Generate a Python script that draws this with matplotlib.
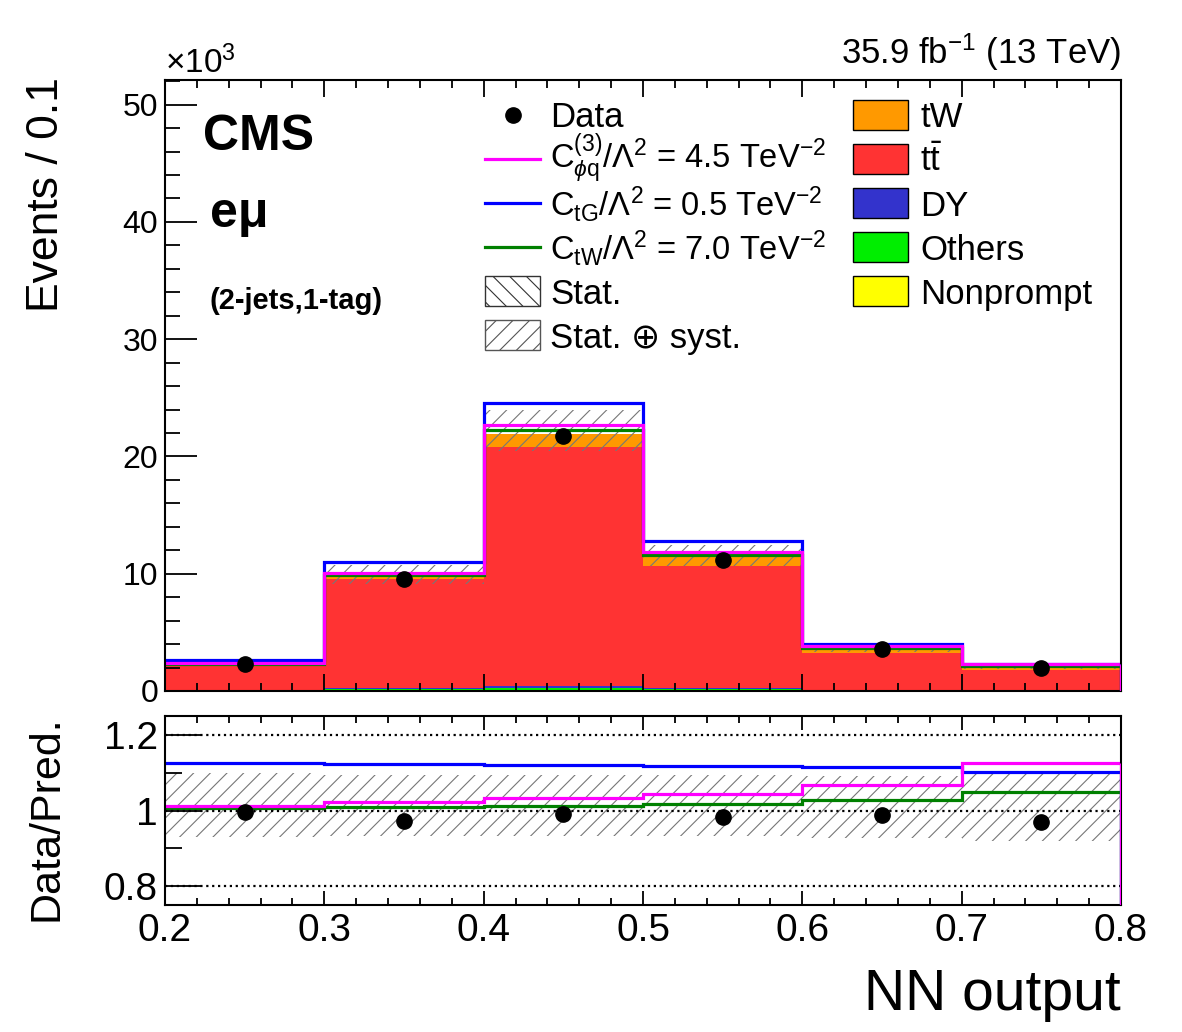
import matplotlib
matplotlib.use("Agg")
import matplotlib.pyplot as plt
import numpy as np
from matplotlib.ticker import MultipleLocator, FixedLocator, FuncFormatter
from matplotlib.lines import Line2D
from matplotlib.patches import Rectangle

plt.rcParams['font.family'] = ['Liberation Sans', 'DejaVu Sans']
plt.rcParams['mathtext.fontset'] = 'custom'
plt.rcParams['mathtext.rm'] = 'Liberation Sans'
plt.rcParams['mathtext.it'] = 'Liberation Sans:italic'
plt.rcParams['mathtext.bf'] = 'Liberation Sans:bold'
plt.rcParams['hatch.linewidth'] = 0.8

# binning of NN output
edges = np.array([0.2, 0.3, 0.4, 0.5, 0.6, 0.7, 0.8])

# event yields in units of 10^3
data_k = np.array([2.31, 9.55, 21.74, 11.20, 3.56, 1.99])
nonprompt_k = np.array([0.03, 0.08, 0.12, 0.06, 0.02, 0.01])
others_k = np.array([0.04, 0.10, 0.15, 0.08, 0.03, 0.02])
dy_k = np.array([0.02, 0.06, 0.15, 0.08, 0.02, 0.01])
ttbar_k = np.array([2.13, 9.27, 20.37, 10.43, 3.18, 1.71])
tw_k = np.array([0.10, 0.30, 1.15, 0.75, 0.35, 0.30])

# relative uncertainty (stat + syst), up / down
unc_up = np.array([0.100, 0.093, 0.093, 0.093, 0.090, 0.099])
unc_dn = np.array([0.069, 0.067, 0.067, 0.067, 0.073, 0.080])

# EFT predictions relative to SM
ratio_cphiq = np.array([1.013, 1.022, 1.033, 1.043, 1.067, 1.125])
ratio_ctg = np.array([1.125, 1.123, 1.121, 1.119, 1.114, 1.103])
ratio_ctw = np.array([1.006, 1.010, 1.013, 1.018, 1.027, 1.050])

# stack order: bottom -> top
stack_vals = [nonprompt_k, others_k, dy_k, ttbar_k, tw_k]
stack_cols = ['#ffff00', '#00ee00', '#3333cc', '#ff3333', '#ff9900']
stack_names = ['Nonprompt', 'Others', 'DY', r't$\bar{\mathrm{t}}$', 'tW']

eft_ratios = [ratio_ctw, ratio_ctg, ratio_cphiq]
eft_cols = ['#008000', '#0000ff', '#ff00ff']
eft_names = [r'C$_{\mathrm{tW}}$/$\Lambda^{2}$ = 7.0 TeV$^{-2}$',
             r'C$_{\mathrm{tG}}$/$\Lambda^{2}$ = 0.5 TeV$^{-2}$',
             r'C$_{\phi\mathrm{q}}^{(3)}$/$\Lambda^{2}$ = 4.5 TeV$^{-2}$']

centers = 0.5 * (edges[1:] + edges[:-1])
total = np.sum(stack_vals, axis=0)

W, H = 1182, 1032
fig = plt.figure(figsize=(W / 100, H / 100), dpi=100)
ax = fig.add_axes([0.1396, 0.33043, 0.8088, 0.59205])
rax = fig.add_axes([0.1396, 0.12306, 0.8088, 0.18314])

# ---- main panel
cum = np.cumsum(stack_vals, axis=0)
for i in range(len(stack_vals) - 1, -1, -1):
    ax.stairs(cum[i], edges, fill=True, color=stack_cols[i], linewidth=0)

ax.stairs(total * (1 + unc_up), edges, baseline=total * (1 - unc_dn), fill=True,
          facecolor='none', edgecolor='#777777', hatch='//', linewidth=0)

for r, c in zip(eft_ratios, eft_cols):
    ax.stairs(total * r, edges, baseline=None, color=c, linewidth=2.3)
    ax.vlines(edges[-1], 0, (total * r)[-1], color=c, linewidth=2.3, zorder=3)

ax.plot(centers, data_k, 'o', color='black', ms=11, zorder=5)

ax.set_xlim(0.2, 0.8)
ax.set_ylim(0, 52.1)
ax.xaxis.set_major_locator(MultipleLocator(0.1))
ax.xaxis.set_minor_locator(MultipleLocator(0.02))
ax.yaxis.set_major_locator(MultipleLocator(10))
ax.yaxis.set_minor_locator(MultipleLocator(2))
ax.tick_params(which='both', direction='in', top=True, right=False, width=1.3)
ax.tick_params(axis='x', which='major', length=12, labelbottom=False)
ax.tick_params(axis='x', which='minor', length=6)
ax.tick_params(axis='y', which='major', length=23, labelsize=23, pad=5)
ax.tick_params(axis='y', which='minor', length=11)
for s in ax.spines.values():
    s.set_linewidth(1.5)

# CMS labels
ax.text(0.040, 0.886, 'CMS', transform=ax.transAxes, fontsize=36, fontweight='bold')
ax.text(0.047, 0.760, 'eμ', transform=ax.transAxes, fontsize=36, fontweight='bold')
ax.text(0.047, 0.625, '(2-jets,1-tag)', transform=ax.transAxes, fontsize=21,
        fontweight='bold')

# legend (manual, ROOT-like layout)
fs_leg = 25
row_y = [0.943, 0.871, 0.798, 0.726, 0.654, 0.582]
base_off = 0.0204
xl0, xl1, xlt = 0.335, 0.392, 0.403
left_labels = ['Data'] + eft_names[::-1] + ['Stat.', r'Stat. ⊕ syst.']
for k, lab in enumerate(left_labels):
    y = row_y[k]
    fs = 23.5 if 1 <= k <= 3 else fs_leg
    dy = 0.004 if k == 1 else 0.0
    ax.text(xlt, y - base_off + dy, lab, transform=ax.transAxes, fontsize=fs, va='baseline')
    if k == 0:
        ax.add_line(Line2D([(xl0 + xl1) / 2], [y], marker='o', color='black', ms=11,
                           transform=ax.transAxes))
    elif k <= 3:
        ax.add_line(Line2D([xl0, xl1], [y, y], color=eft_cols[::-1][k - 1], lw=2.3,
                           transform=ax.transAxes))
    else:
        hatch = '\\\\' if k == 4 else '//'
        ec = '#333333' if k == 4 else '#555555'
        ax.add_patch(Rectangle((xl0, y - 0.0245), xl1 - xl0, 0.049, transform=ax.transAxes,
                               facecolor='white', edgecolor=ec, hatch=hatch, lw=1))
xr0, xrw, xrt = 0.720, 0.0575, 0.790
for k, i in enumerate(range(len(stack_vals) - 1, -1, -1)):
    y = row_y[k]
    ax.add_patch(Rectangle((xr0, y - 0.0245), xrw, 0.049, transform=ax.transAxes,
                           facecolor=stack_cols[i], edgecolor='black', lw=1))
    ax.text(xrt, y - base_off, stack_names[i], transform=ax.transAxes, fontsize=fs_leg,
            va='baseline')

# ---- ratio panel
rax.stairs(1 + unc_up, edges, baseline=1 - unc_dn, fill=True, facecolor='none',
           edgecolor='#777777', hatch='//', linewidth=0)
for g in [0.8, 1.0, 1.2]:
    rax.axhline(g, color='black', ls=':', lw=1.6)
for r, c in zip(eft_ratios, eft_cols):
    rax.stairs(r, edges, baseline=None, color=c, linewidth=2.3)
    rax.vlines(edges[-1], 0, r[-1], color=c, linewidth=2.3, zorder=3)
rax.plot(centers, data_k / total, 'o', color='black', ms=11, zorder=5)

rax.set_xlim(0.2, 0.8)
rax.set_ylim(0.75, 1.25)
rax.xaxis.set_major_locator(MultipleLocator(0.1))
rax.xaxis.set_minor_locator(MultipleLocator(0.02))
rax.yaxis.set_major_locator(FixedLocator([0.8, 1.0, 1.2]))
rax.yaxis.set_minor_locator(FixedLocator([0.9, 1.1]))
fmt = FuncFormatter(lambda v, p: '%g' % round(v, 2))
rax.xaxis.set_major_formatter(fmt)
rax.yaxis.set_major_formatter(fmt)
rax.tick_params(which='both', direction='in', top=True, right=False, width=1.3)
rax.tick_params(axis='x', which='major', length=10, labelsize=28, pad=6)
rax.tick_params(axis='x', which='minor', length=5)
rax.tick_params(axis='y', which='major', length=26, labelsize=28, pad=5)
rax.tick_params(axis='y', which='minor', length=12)
for s in rax.spines.values():
    s.set_linewidth(1.5)

# ---- axis titles and header
fig.text(47 / W, 1 - 77 / H, 'Events / 0.1', rotation=90, ha='center', va='top', fontsize=32)
fig.text(47 / W, 1 - 715 / H, 'Data/Pred.', rotation=90, ha='center', va='top', fontsize=31)
fig.text(1121 / W, 1 - 1010 / H, 'NN output', ha='right', va='baseline', fontsize=41)
fig.text(1121 / W, 1 - 64 / H, r'35.9 fb$^{-1}$ (13 TeV)', ha='right', va='baseline',
         fontsize=25)
fig.text(165 / W, 1 - 73 / H, r'×10$^{3}$', ha='left', va='baseline', fontsize=24)

fig.savefig('out.png', dpi=100)
